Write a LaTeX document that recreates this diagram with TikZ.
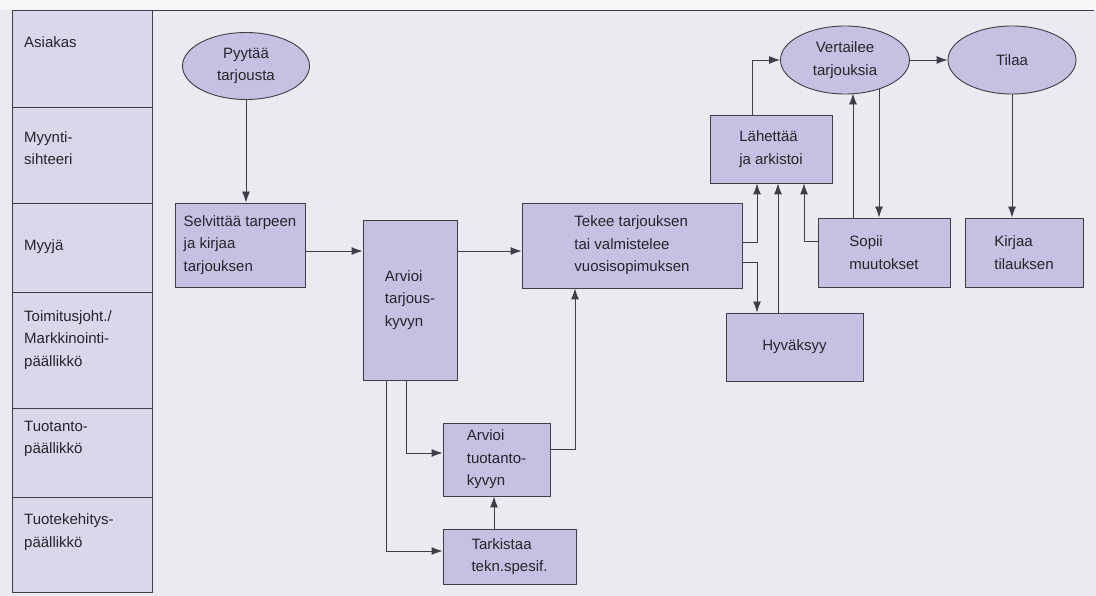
\documentclass[tikz,border=0pt]{standalone}
\usepackage{fontspec}
\setmainfont{Liberation Sans}
\usetikzlibrary{shapes.geometric,arrows.meta}
\definecolor{bgc}{HTML}{EBEAF0}
\definecolor{topc}{HTML}{F6F6F8}
\definecolor{panelc}{HTML}{DAD7EA}
\definecolor{nodec}{HTML}{C5C1E2}
\definecolor{linec}{HTML}{3E3E46}
\definecolor{textc}{HTML}{25252B}
\begin{document}
\begin{tikzpicture}[x=1pt,y=-1pt,
  font=\fontsize{15}{22.5}\selectfont,
  box/.style={draw=linec, fill=nodec, line width=0.9pt, inner sep=0pt, align=left, text=textc},
  oval/.style={ellipse, draw=linec, fill=nodec, line width=0.9pt, inner sep=0pt, align=center, text=textc},
  lanetext/.style={anchor=west, align=left, inner sep=0pt, text=textc},
  arr/.style={draw=linec, line width=0.9pt, -{Latex[length=11pt,width=8pt]}},
  frame/.style={draw=linec, line width=0.9pt}]
% background
\fill[bgc] (0,0) rectangle (1096,596);
\fill[topc] (0,0) rectangle (1096,10);
\useasboundingbox (0,0) rectangle (1096,596);
% lane panel
\draw[frame, fill=panelc] (12,10) rectangle (152,592);
\draw[frame] (152,10) -- (1094,10);
\foreach \yy in {107,203,292,408,497} \draw[frame] (12,\yy) -- (152,\yy);
\node[lanetext] (lane1) at (24,42) {Asiakas};
\node[lanetext] (lane2) at (24,148) {Myynti-\\sihteeri};
\node[lanetext] (lane3) at (24,247) {Myyjä};
\node[lanetext] (lane4) at (24,340) {Toimitusjoht./\\Markkinointi-\\päällikkö};
\node[lanetext] (lane5) at (24,439) {Tuotanto-\\päällikkö};
\node[lanetext] (lane6) at (24,532) {Tuotekehitys-\\päällikkö};
% nodes
\node[oval, minimum width=127pt, minimum height=67pt] (pyy) at (246,66) {Pyytää\\tarjousta};
\node[oval, minimum width=129pt, minimum height=68pt] (vert) at (845,60) {Vertailee\\tarjouksia};
\node[oval, minimum width=128pt, minimum height=68pt] (tilaa) at (1012,60) {Tilaa};
\node[box, minimum width=130pt, minimum height=84pt] (selv) at (240,245) {Selvittää tarpeen\\ja kirjaa\\tarjouksen};
\node[box, minimum width=94pt, minimum height=160pt] (arvt) at (410,300) {Arvioi\\tarjous-\\kyvyn};
\node[box, minimum width=220pt, minimum height=85pt] (tekee) at (632,245.5) {Tekee tarjouksen\\tai valmistelee\\vuosisopimuksen};
\node[box, minimum width=107pt, minimum height=73pt] (tuot) at (496.5,459.5) {Arvioi\\tuotanto-\\kyvyn};
\node[box, minimum width=133pt, minimum height=55pt] (tark) at (509.5,556.5) {Tarkistaa\\tekn.spesif.};
\node[box, minimum width=122pt, minimum height=68pt] (lah) at (771,149) {Lähettää\\ja arkistoi};
\node[box, minimum width=137pt, minimum height=68pt] (hyv) at (794.5,347) {Hyväksyy};
\node[box, minimum width=132pt, minimum height=69pt] (sopii) at (884,252.5) {Sopii\\muutokset};
\node[box, minimum width=118pt, minimum height=69pt] (kirjaa) at (1024,252.5) {Kirjaa\\tilauksen};
% helper coordinates
\coordinate (r251) at (0,251);
\coordinate (r551) at (0,551);
\coordinate (r453) at (0,453);
\coordinate (r449) at (0,449);
\coordinate (r242) at (0,242);
\coordinate (r262) at (0,262);
\coordinate (r241) at (0,241);
\coordinate (r93) at (0,93.5);
\coordinate (r89) at (0,89.5);
\coordinate (c386) at (386,0);
\coordinate (c406) at (406,0);
\coordinate (c493) at (494,0);
\coordinate (c575) at (575,0);
\coordinate (c752) at (752,0);
\coordinate (c757) at (757,0);
\coordinate (c778) at (778,0);
\coordinate (c804) at (804,0);
\coordinate (c853) at (853,0);
\coordinate (c879) at (879,0);
% connectors
\draw[arr] (pyy) -- (pyy |- selv.north);
\draw[arr] (selv.east |- r251) -- (arvt.west |- r251);
\draw[arr] (arvt.east |- r251) -- (tekee.west |- r251);
\draw[arr] (c386 |- arvt.south) |- (tark.west |- r551);
\draw[arr] (c406 |- arvt.south) |- (tuot.west |- r453);
\draw[arr] (c493 |- tark.north) -- (c493 |- tuot.south);
\draw[arr] (tuot.east |- r449) -| (c575 |- tekee.south);
\draw[arr] (tekee.east |- r242) -| (c757 |- lah.south);
\draw[arr] (tekee.east |- r262) -| (c757 |- hyv.north);
\draw[arr] (c778 |- hyv.north) -- (c778 |- lah.south);
\draw[arr] (sopii.west |- r241) -| (c804 |- lah.south);
\draw[arr] (c752 |- lah.north) |- (vert.west);
\draw[arr] (vert.east) -- (tilaa.west);
\draw[arr] (c853 |- sopii.north) -- (c853 |- r93);
\draw[arr] (c879 |- r89) -- (c879 |- sopii.north);
\draw[arr] (tilaa) -- (tilaa |- kirjaa.north);
\end{tikzpicture}
\end{document}
